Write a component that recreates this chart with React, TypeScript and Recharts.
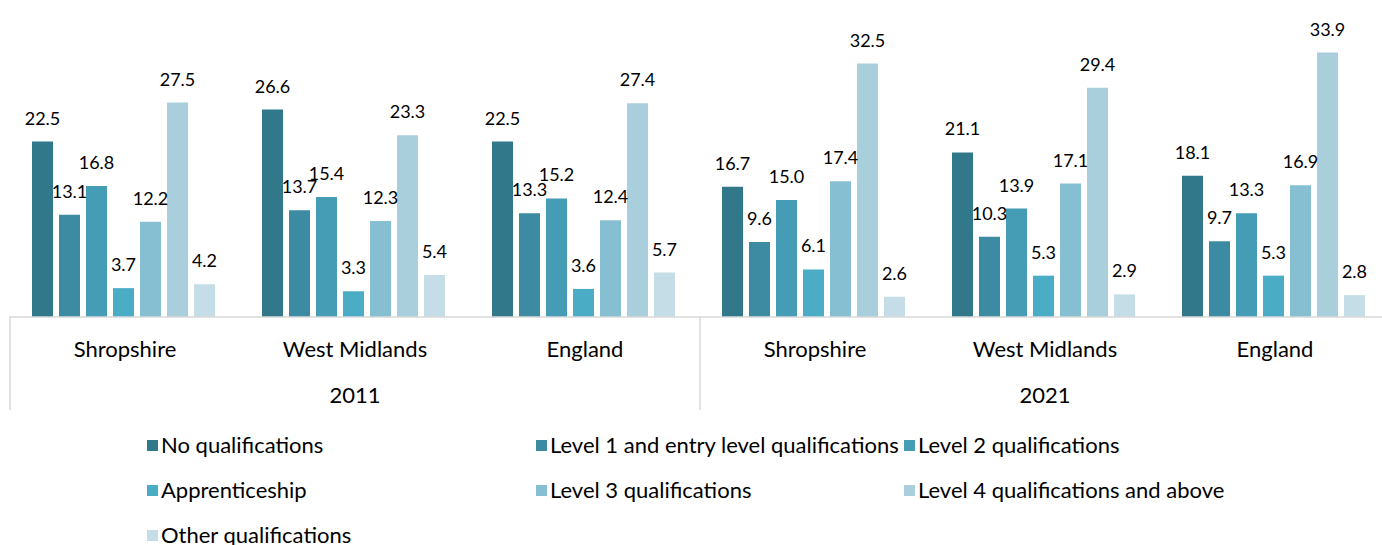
import { BarChart, Bar, XAxis, YAxis, Legend, LabelList } from "recharts";

// category rows
const places = ["Shropshire", "West Midlands", "England", "Shropshire", "West Midlands", "England"];
const years = ["2011", "2011", "2011", "2021", "2021", "2021"];

// series values, one per category
const noQual = [22.5, 26.6, 22.5, 16.7, 21.1, 18.1];
const level1 = [13.1, 13.7, 13.3, 9.6, 10.3, 9.7];
const level2 = [16.8, 15.4, 15.2, 15.0, 13.9, 13.3];
const apprentice = [3.7, 3.3, 3.6, 6.1, 5.3, 5.3];
const level3 = [12.2, 12.3, 12.4, 17.4, 17.1, 16.9];
const level4 = [27.5, 23.3, 27.4, 32.5, 29.4, 33.9];
const other = [4.2, 5.4, 5.7, 2.6, 2.9, 2.8];

const series = [
  { key: "noQual", name: "No qualifications", values: noQual, color: "#31788A" },
  { key: "level1", name: "Level 1 and entry level qualifications", values: level1, color: "#3C8BA3" },
  { key: "level2", name: "Level 2 qualifications", values: level2, color: "#459CB5" },
  { key: "apprentice", name: "Apprenticeship", values: apprentice, color: "#4BACC6" },
  { key: "level3", name: "Level 3 qualifications", values: level3, color: "#86BFD2" },
  { key: "level4", name: "Level 4 qualifications and above", values: level4, color: "#A9CFDD" },
  { key: "other", name: "Other qualifications", values: other, color: "#C5DDE6" },
];

const data = places.map((p, i) => {
  const row: Record<string, string | number> = { place: p, year: years[i] };
  series.forEach((s) => (row[s.key] = s.values[i]));
  return row;
});

const FONT = "Lato, 'Open Sans', sans-serif";
const CHART_W = 1392;
const MARGIN_L = 10;
const MARGIN_R = 2;
const BAND = (CHART_W - MARGIN_L - MARGIN_R) / places.length;
const SEP = "#D9D9D9";
const TEXT_SIZE = 22;

function PlaceTick(props: any) {
  const { x, y, payload, index } = props;
  const top = y - 1;
  const lines: number[] = [];
  if (index === 0 || index === 3) lines.push(x - BAND / 2);
  if (index === places.length - 1) lines.push(x + BAND / 2);
  return (
    <g>
      {lines.map((lx) => (
        <line key={lx} x1={lx} x2={lx} y1={top - 8} y2={top + 86} stroke={SEP} strokeWidth={1.5} />
      ))}
      <text x={x} y={top + 33} textAnchor="middle" fontFamily={FONT} fontSize={TEXT_SIZE} fill="#000">
        {payload.value}
      </text>
    </g>
  );
}

function YearTick(props: any) {
  const { x, y, payload, index } = props;
  if (index !== 1 && index !== 4) return null;
  return (
    <text x={x} y={y + 32} textAnchor="middle" fontFamily={FONT} fontSize={TEXT_SIZE} fill="#000">
      {payload.value}
    </text>
  );
}

const legendCols = [137, 526, 894];

function LegendBox() {
  return (
    <div style={{ position: "relative", width: CHART_W, height: 135, fontFamily: FONT, fontSize: TEXT_SIZE, color: "#000" }}>
      {series.map((s, i) => {
        const col = i % 3;
        const row = Math.floor(i / 3);
        return (
          <div
            key={s.key}
            style={{
              position: "absolute",
              left: legendCols[col],
              top: 23 + row * 45,
              display: "flex",
              alignItems: "center",
              whiteSpace: "nowrap",
              lineHeight: "24px",
            }}
          >
            <span style={{ display: "inline-block", width: 11, height: 11, background: s.color, marginRight: 3 }} />
            {s.name}
          </div>
        );
      })}
    </div>
  );
}

export default function App() {
  return (
    <div style={{ position: "absolute", left: 0, top: 0, width: 1382, height: 545, overflow: "hidden", background: "#fff" }}>
      <BarChart
        width={CHART_W}
        height={545}
        data={data}
        margin={{ top: 5, right: MARGIN_R, bottom: 0, left: MARGIN_L }}
        barCategoryGap={22}
        barGap={6}
      >
        <YAxis hide domain={[0, 40]} />
        <XAxis
          dataKey="place"
          xAxisId="place"
          height={46}
          stroke={SEP}
          strokeWidth={1.5}
          tickLine={false}
          interval={0}
          tick={<PlaceTick />}
        />
        <XAxis
          dataKey="year"
          xAxisId="year"
          height={47}
          axisLine={false}
          tickLine={false}
          interval={0}
          allowDuplicatedCategory
          tick={<YearTick />}
        />
        <Legend verticalAlign="bottom" content={() => <LegendBox />} />
        {series.map((s) => (
          <Bar key={s.key} dataKey={s.key} name={s.name} fill={s.color} xAxisId="place" isAnimationActive={false}>
            <LabelList
              dataKey={s.key}
              position="top"
              offset={17}
              formatter={(v: any) => Number(v).toFixed(1)}
              style={{ fontFamily: FONT, fontSize: 18, fill: "#000" }}
            />
          </Bar>
        ))}
      </BarChart>
    </div>
  );
}
